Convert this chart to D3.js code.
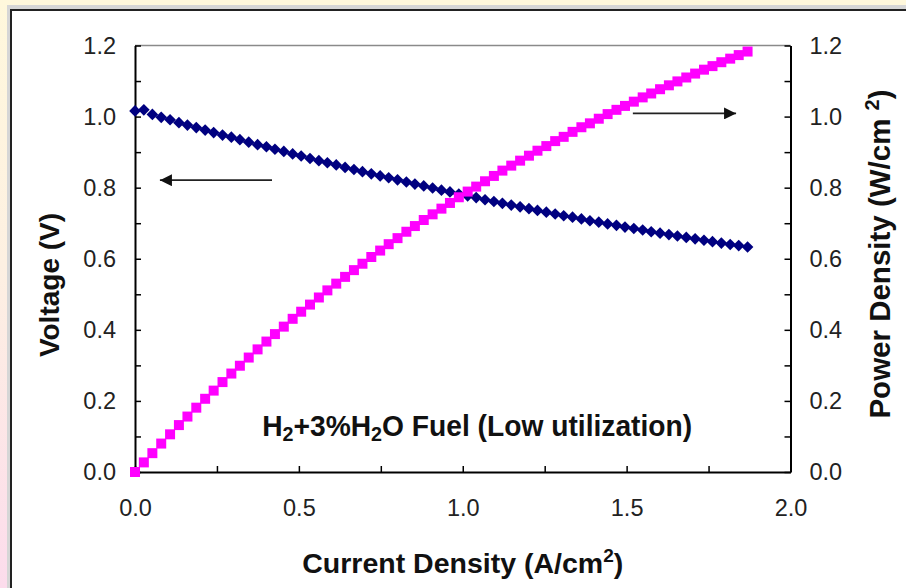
<!DOCTYPE html>
<html>
<head>
<meta charset="utf-8">
<script src="https://cdn.jsdelivr.net/npm/d3@7"></script>
<style>
  html, body { margin: 0; padding: 0; background: #fff; }
  svg { display: block; }
  text { font-family: "Liberation Sans", Arial, sans-serif; }
</style>
</head>
<body>
<svg id="chart" width="906" height="588"></svg>
<script>
// Current density (A/cm2)
const current = [0.000,0.027,0.053,0.080,0.107,0.134,0.160,0.187,0.214,0.240,0.267,0.294,0.320,0.347,0.374,0.401,0.427,0.454,0.481,0.507,0.534,0.561,0.587,0.614,0.641,0.668,0.694,0.721,0.748,0.774,0.801,0.828,0.854,0.881,0.908,0.935,0.961,0.988,1.015,1.041,1.068,1.095,1.121,1.148,1.175,1.202,1.228,1.255,1.282,1.308,1.335,1.362,1.388,1.415,1.442,1.469,1.495,1.522,1.549,1.575,1.602,1.629,1.655,1.682,1.709,1.736,1.762,1.789,1.816,1.842,1.869];
// Cell voltage (V)
const voltage = [1.016,1.019,1.006,0.998,0.991,0.983,0.976,0.969,0.962,0.955,0.948,0.942,0.935,0.928,0.921,0.915,0.908,0.902,0.895,0.889,0.882,0.876,0.870,0.864,0.857,0.851,0.845,0.839,0.833,0.828,0.822,0.816,0.810,0.805,0.799,0.793,0.788,0.782,0.777,0.772,0.766,0.761,0.756,0.751,0.746,0.741,0.736,0.731,0.726,0.721,0.717,0.712,0.707,0.703,0.698,0.694,0.689,0.685,0.681,0.676,0.672,0.668,0.664,0.660,0.656,0.652,0.648,0.644,0.640,0.637,0.633];
// Power density (W/cm2)
const power = [0.000,0.027,0.053,0.080,0.106,0.132,0.156,0.181,0.206,0.229,0.253,0.277,0.299,0.322,0.345,0.367,0.388,0.409,0.431,0.451,0.471,0.491,0.511,0.530,0.549,0.568,0.586,0.605,0.623,0.641,0.658,0.676,0.692,0.709,0.725,0.741,0.757,0.773,0.789,0.803,0.818,0.833,0.848,0.862,0.876,0.890,0.904,0.917,0.931,0.943,0.957,0.970,0.981,0.994,1.007,1.019,1.030,1.042,1.054,1.065,1.077,1.088,1.099,1.110,1.121,1.132,1.142,1.153,1.163,1.173,1.183];

const xLabelTicks = [0, 0.5, 1.0, 1.5, 2.0];
const xMinorTicks = [0, 0.25, 0.5, 0.75, 1.0, 1.25, 1.5, 1.75, 2.0];
const yLabelTicks = [0, 0.2, 0.4, 0.6, 0.8, 1.0, 1.2];
const yMinorTicks = [0, 0.1, 0.2, 0.3, 0.4, 0.5, 0.6, 0.7, 0.8, 0.9, 1.0, 1.1, 1.2];

// Arrow annotations in data units: [x0, x1, y] (x1 = tip)
const voltageArrow = [0.418, 0.076, 0.821];
const powerArrow = [1.519, 1.834, 1.009];
const noteAnchor = [0.388, 0.101];

const svg = d3.select("#chart");
const W = 906, H = 588;

// ---- slide frame ----
const defs = svg.append("defs");
const grad = defs.append("linearGradient").attr("id", "edge").attr("x1", 0).attr("y1", 0).attr("x2", 0).attr("y2", 1);
grad.append("stop").attr("offset", "0%").attr("stop-color", "#fff8dc");
grad.append("stop").attr("offset", "45%").attr("stop-color", "#fdf0e2");
grad.append("stop").attr("offset", "100%").attr("stop-color", "#fcdcec");

svg.append("rect").attr("width", W).attr("height", H).attr("fill", "#fff8dc");
svg.append("rect").attr("x", 0).attr("y", 0).attr("width", 8).attr("height", H).attr("fill", "url(#edge)");
svg.append("rect").attr("x", 7).attr("y", 5).attr("width", W).attr("height", H).attr("fill", "#d6d6d6");
svg.append("rect").attr("x", 10).attr("y", 9).attr("width", W).attr("height", H).attr("fill", "#222");
svg.append("rect").attr("x", 12).attr("y", 11).attr("width", W).attr("height", H).attr("fill", "#ffffff");

// ---- scales ----
const x = d3.scaleLinear().domain([0, 2]).range([135, 790.5]);
const yL = d3.scaleLinear().domain([0, 1.2]).range([472, 45.5]);
const yR = d3.scaleLinear().domain([0, 1.2]).range([472, 45.5]);

const fmt = d3.format(".1f");
const labelColor = "#222";

// plot border top
svg.append("line")
  .attr("x1", x(0)).attr("x2", x(2)).attr("y1", yL(1.2)).attr("y2", yL(1.2))
  .attr("stroke", "#8a8a8a").attr("stroke-width", 1.5);

function styleAxis(g) {
  g.selectAll("path.domain").attr("stroke", "#000").attr("stroke-width", 2);
  g.selectAll(".tick line").attr("stroke", "#000").attr("stroke-width", 1.5);
  g.selectAll("text").attr("font-size", 23.5).attr("fill", labelColor)
    .attr("font-family", "'Liberation Sans', Arial, sans-serif");
}

// left axis: inward ticks + labels
svg.append("g").attr("transform", `translate(${x(0)},0)`)
  .call(d3.axisRight(yL).tickValues(yMinorTicks).tickSize(6).tickSizeOuter(0).tickFormat(""))
  .call(styleAxis);
svg.append("g").attr("transform", `translate(${x(0)},0)`)
  .call(d3.axisLeft(yL).tickValues(yLabelTicks).tickSize(0).tickPadding(19).tickFormat(fmt))
  .call(g => g.select("path.domain").remove())
  .call(styleAxis);

// right axis
svg.append("g").attr("transform", `translate(${x(2)},0)`)
  .call(d3.axisLeft(yR).tickValues(yMinorTicks).tickSize(6).tickSizeOuter(0).tickFormat(""))
  .call(styleAxis);
svg.append("g").attr("transform", `translate(${x(2)},0)`)
  .call(d3.axisRight(yR).tickValues(yLabelTicks).tickSize(0).tickPadding(19).tickFormat(fmt))
  .call(g => g.select("path.domain").remove())
  .call(styleAxis);

// bottom axis
svg.append("g").attr("transform", `translate(0,${yL(0)})`)
  .call(d3.axisTop(x).tickValues(xMinorTicks).tickSize(6).tickSizeOuter(0).tickFormat(""))
  .call(styleAxis);
svg.append("g").attr("transform", `translate(0,${yL(0)})`)
  .call(d3.axisBottom(x).tickValues(xLabelTicks).tickSize(0).tickPadding(27).tickFormat(fmt))
  .call(g => g.select("path.domain").remove())
  .call(styleAxis);

// ---- markers ----
const diamond = {
  draw(ctx, size) {
    const r = Math.sqrt(size / 2);
    ctx.moveTo(0, -r); ctx.lineTo(r, 0); ctx.lineTo(0, r); ctx.lineTo(-r, 0); ctx.closePath();
  }
};
const vData = current.map((c, i) => ({ c, v: voltage[i] }));
const pData = current.map((c, i) => ({ c, p: power[i] }));

svg.append("g").selectAll("path").data(vData).join("path")
  .attr("d", d3.symbol().type(diamond).size(68))
  .attr("transform", d => `translate(${x(d.c)},${yL(d.v)})`)
  .attr("fill", "#000080");

svg.append("g").selectAll("path").data(pData).join("path")
  .attr("d", d3.symbol().type(d3.symbolSquare).size(100))
  .attr("transform", d => `translate(${x(d.c)},${yR(d.p)})`)
  .attr("fill", "#ff00ff");

// ---- arrows ----
defs.append("marker").attr("id", "head").attr("viewBox", "0 0 12 12")
  .attr("refX", 12).attr("refY", 6).attr("markerWidth", 13).attr("markerHeight", 12)
  .attr("markerUnits", "userSpaceOnUse").attr("orient", "auto")
  .append("path").attr("d", "M0,0 L12,6 L0,12 Z").attr("fill", "#111");

svg.append("line")
  .attr("x1", x(voltageArrow[0])).attr("x2", x(voltageArrow[1]))
  .attr("y1", yL(voltageArrow[2])).attr("y2", yL(voltageArrow[2]))
  .attr("stroke", "#222").attr("stroke-width", 1.8).attr("marker-end", "url(#head)");
svg.append("line")
  .attr("x1", x(powerArrow[0])).attr("x2", x(powerArrow[1]))
  .attr("y1", yR(powerArrow[2])).attr("y2", yR(powerArrow[2]))
  .attr("stroke", "#222").attr("stroke-width", 1.8).attr("marker-end", "url(#head)");

// ---- annotation (slightly condensed bold face) ----
const note = svg.append("text")
  .attr("transform", `translate(${x(noteAnchor[0])},${yL(noteAnchor[1])}) scale(0.94,1)`)
  .attr("font-size", 30).attr("font-weight", "bold").attr("fill", "#111");
note.append("tspan").text("H");
note.append("tspan").attr("font-size", 21).attr("dy", 5).text("2");
note.append("tspan").attr("dy", -5).text("+3%H");
note.append("tspan").attr("font-size", 21).attr("dy", 5).text("2");
note.append("tspan").attr("dy", -5).text("O Fuel (Low utilization)");

// ---- axis titles ----
const xt = svg.append("text")
  .attr("x", (x(0) + x(2)) / 2).attr("y", 573)
  .attr("text-anchor", "middle").attr("font-size", 28.5).attr("font-weight", "bold").attr("fill", "#111");
xt.append("tspan").text("Current Density (A/cm");
xt.append("tspan").attr("font-size", 19).attr("dy", -11).text("2");
xt.append("tspan").attr("dy", 11).text(")");

svg.append("text")
  .attr("transform", `translate(58.5,${285}) rotate(-90)`)
  .attr("text-anchor", "middle").attr("font-size", 28).attr("font-weight", "bold").attr("fill", "#111")
  .text("Voltage (V)");

const yt = svg.append("text")
  .attr("transform", `translate(890,${254}) rotate(-90)`)
  .attr("text-anchor", "middle").attr("font-size", 29.5).attr("font-weight", "bold").attr("fill", "#111");
yt.append("tspan").text("Power Density (W/cm ");
yt.append("tspan").attr("font-size", 20).attr("dy", -11).text("2");
yt.append("tspan").attr("dy", 11).text(")");
</script>
</body>
</html>
